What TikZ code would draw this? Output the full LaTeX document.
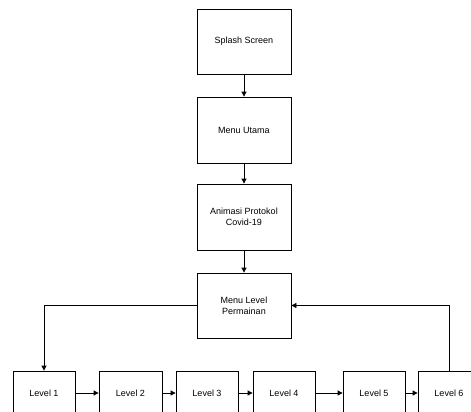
\documentclass[tikz,border=0pt]{standalone}
\usepackage{fontspec}
\setmainfont{Liberation Sans}
\usetikzlibrary{arrows.meta,calc}
\tikzset{
  box/.style={draw=black, line width=0.8pt, fill=white, align=center, font=\fontsize{9}{11}\selectfont, inner sep=0pt},
  conn/.style={draw=black, line width=0.8pt, -{Triangle[length=5pt,width=5pt]}}
}
\begin{document}
\begin{tikzpicture}[x=1pt,y=-1pt]
\useasboundingbox (0,0) rectangle (471,412);
\clip (0,0) rectangle (471,412);
\fill[white] (0,0) rectangle (471,412);
\node[box, minimum width=94pt, minimum height=65pt] (splash) at (244,41.5) {Splash Screen};
\node[box, minimum width=94pt, minimum height=66pt] (menu) at (244,130) {Menu Utama};
\node[box, minimum width=94pt, minimum height=66pt] (anim) at (244,217) {Animasi Protokol\\Covid-19};
\node[box, minimum width=94pt, minimum height=65pt] (level) at (244,305.5) {Menu Level\\Permainan};
\node[box, minimum width=62pt, minimum height=44pt] (l1) at (44,393) {Level 1};
\node[box, minimum width=63pt, minimum height=44pt] (l2) at (130.5,393) {Level 2};
\node[box, minimum width=62pt, minimum height=44pt] (l3) at (207,393) {Level 3};
\node[box, minimum width=62pt, minimum height=44pt] (l4) at (284,393) {Level 4};
\node[box, minimum width=62pt, minimum height=44pt] (l5) at (374,393) {Level 5};
\node[box, minimum width=62pt, minimum height=44pt] (l6) at (449,393) {Level 6};
\draw[conn] (splash) -- (menu);
\draw[conn] (menu) -- (anim);
\draw[conn] (anim) -- (level);
\draw[conn] (level.west) -| (l1.north);
\draw[conn] (l6.north) |- (level.east);
\draw[conn] (l1) -- (l2);
\draw[conn] (l2) -- (l3);
\draw[conn] (l3) -- (l4);
\draw[conn] (l4) -- (l5);
\draw[conn] (l5) -- (l6);
\end{tikzpicture}
\end{document}
